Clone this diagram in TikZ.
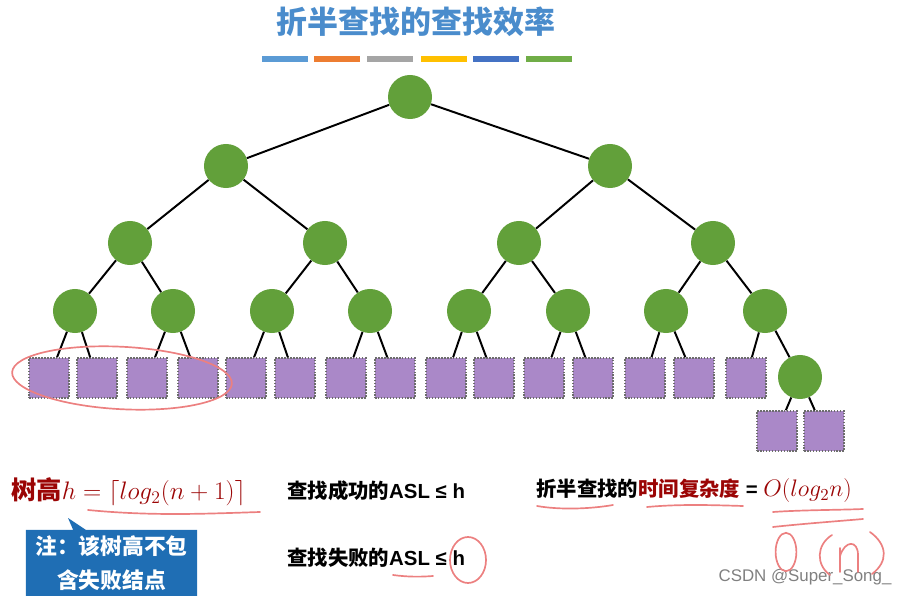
\documentclass[tikz,border=0pt]{standalone}
\usepackage{fix-cm}
\usepackage{fontspec}
\setsansfont{Liberation Sans}
\newfontfamily\cjk{Noto Sans CJK SC}
\newfontfamily\lat{Liberation Sans}
\usepackage{xcolor}
\usetikzlibrary{positioning,shapes.callouts}

\definecolor{nodegreen}{RGB}{98,160,58}
\definecolor{leafpurple}{RGB}{170,136,200}
\definecolor{titleblue}{RGB}{74,140,204}
\definecolor{darkred}{RGB}{155,5,5}
\definecolor{notebox}{RGB}{31,110,180}
\definecolor{penred}{RGB}{236,128,128}
\definecolor{barA}{RGB}{91,155,213}
\definecolor{barB}{RGB}{237,125,49}
\definecolor{barC}{RGB}{165,165,165}
\definecolor{barD}{RGB}{255,192,0}
\definecolor{barE}{RGB}{68,114,196}
\definecolor{barF}{RGB}{112,173,71}

\begin{document}
\begin{tikzpicture}[
  x=0.025cm,y=-0.025cm,
  inner/.style={circle,fill=nodegreen,minimum size=1.1cm,inner sep=0pt},
  leaf/.style={rectangle,fill=leafpurple,draw=gray!85!black,densely dotted,line width=1.1pt,minimum size=1cm,inner sep=0pt},
  edge/.style={line width=1.4pt},
  bar/.style={rectangle,minimum width=1.15cm,minimum height=0.13cm,inner sep=0pt},
  pen/.style={penred,line width=1.2pt,line cap=round},
  txt/.style={anchor=west,inner sep=0pt,font=\cjk\bfseries\fontsize{14.5}{17}\selectfont},
  note/.style={rectangle callout,fill=notebox,text=white,align=center,minimum width=4.275cm,minimum height=1.65cm,
    callout pointer width=0.32cm,font=\cjk\bfseries\fontsize{15.5}{24}\selectfont}
]
\useasboundingbox (0,0) rectangle (901,596);

% title and colour bars
\node[text=titleblue,font=\cjk\bfseries\fontsize{22}{26}\selectfont] (title) at (416,22) {折半查找的查找效率};
\node[bar,fill=barA] (bar1) at (285,59) {};
\node[bar,fill=barB] (bar2) at (337,59) {};
\node[bar,fill=barC] (bar3) at (390,59) {};
\node[bar,fill=barD] (bar4) at (444,59) {};
\node[bar,fill=barE] (bar5) at (496,59) {};
\node[bar,fill=barF] (bar6) at (549,59) {};

% inner nodes
\node[inner] (n1) at (410,97) {};
\node[inner] (n2) at (226,166) {};
\node[inner] (n3) at (610,166) {};
\node[inner] (n4) at (130,243) {};
\node[inner] (n5) at (325,243) {};
\node[inner] (n6) at (519,243) {};
\node[inner] (n7) at (713,243) {};
\node[inner] (n8) at (75,311) {};
\node[inner] (n9) at (173,311) {};
\node[inner] (n10) at (272,311) {};
\node[inner] (n11) at (370,311) {};
\node[inner] (n12) at (469,311) {};
\node[inner] (n13) at (568,311) {};
\node[inner] (n14) at (666,311) {};
\node[inner] (n15) at (765,311) {};
\node[inner] (n16) at (800,377) {};

% failure nodes
\node[leaf] (f1) at (49,378) {};
\node[leaf] (f2) at (97,378) {};
\node[leaf] (f3) at (147,378) {};
\node[leaf] (f4) at (198,378) {};
\node[leaf] (f5) at (246,378) {};
\node[leaf] (f6) at (295,378) {};
\node[leaf] (f7) at (346,378) {};
\node[leaf] (f8) at (395,378) {};
\node[leaf] (f9) at (446,378) {};
\node[leaf] (f10) at (494,378) {};
\node[leaf] (f11) at (544,378) {};
\node[leaf] (f12) at (593,378) {};
\node[leaf] (f13) at (645,378) {};
\node[leaf] (f14) at (694,378) {};
\node[leaf] (f15) at (746,378) {};
\node[leaf] (f16) at (777,431) {};
\node[leaf] (f17) at (824,431) {};

\draw[edge] (n1)--(n2) (n1)--(n3);
\draw[edge] (n2)--(n4) (n2)--(n5) (n3)--(n6) (n3)--(n7);
\draw[edge] (n4)--(n8) (n4)--(n9) (n5)--(n10) (n5)--(n11);
\draw[edge] (n6)--(n12) (n6)--(n13) (n7)--(n14) (n7)--(n15);
\draw[edge] (n8)--(f1) (n8)--(f2) (n9)--(f3) (n9)--(f4);
\draw[edge] (n10)--(f5) (n10)--(f6) (n11)--(f7) (n11)--(f8);
\draw[edge] (n12)--(f9) (n12)--(f10) (n13)--(f11) (n13)--(f12);
\draw[edge] (n14)--(f13) (n14)--(f14) (n15)--(f15) (n15)--(n16);
\draw[edge] (n16)--(f16) (n16)--(f17);

% formulas
\node[txt,text=darkred,font=\cjk\bfseries\fontsize{18}{21}\selectfont] (height) at (11,492)
  {树高$h = \bigl\lceil log_2(n+1)\bigr\rceil$};
\node[txt] (succ) at (287,491) {查找成功的{\lat ASL ≤ h}};
\node[txt] (fail) at (287,558) {查找失败的{\lat ASL ≤ h}};
\node[txt] (cost) at (536,491)
  {折半查找的{\color{darkred}时间复杂度}{\lat\ = }{\color{darkred}\fontsize{17}{19}\selectfont$O(log_2n)$}};

\node[note,callout absolute pointer={(68,518)}] (note) at (111.5,563) {注：该树高不包\\含失败结点};

\node[text=gray,font=\sffamily\fontsize{12}{14}\selectfont] (mark) at (805,577) {CSDN @Super\_Song\_};

% pen marks
\draw[pen,rotate around={-3:(122,378)}] (122,378) ellipse [x radius=2.75cm,y radius=0.78cm];
\draw[pen] (88,510) .. controls (150,516) and (200,514) .. (260,512);
\draw[pen] (393,575) .. controls (408,577) and (420,577) .. (433,576);
\draw[pen] (468,560) ellipse [x radius=0.45cm,y radius=0.575cm];
\draw[pen] (537,506) .. controls (560,510) and (590,509) .. (613,505);
\draw[pen] (647,507) .. controls (680,504) and (710,505) .. (743,506);
\draw[pen] (773,512) .. controls (800,510) and (840,510) .. (863,509);
\draw[pen] (773,527) .. controls (800,524) and (840,521) .. (863,519);
\draw[pen] (786,552) ellipse [x radius=0.26cm,y radius=0.48cm];
\draw[pen] (832,535) .. controls (816,545) and (816,565) .. (830,575);
\draw[pen] (840,548) -- (840,572);
\draw[pen] (840,556) .. controls (845,540) and (858,540) .. (858,555) -- (858,572);
\draw[pen] (870,532) .. controls (888,545) and (888,562) .. (872,574);
\end{tikzpicture}
\end{document}
